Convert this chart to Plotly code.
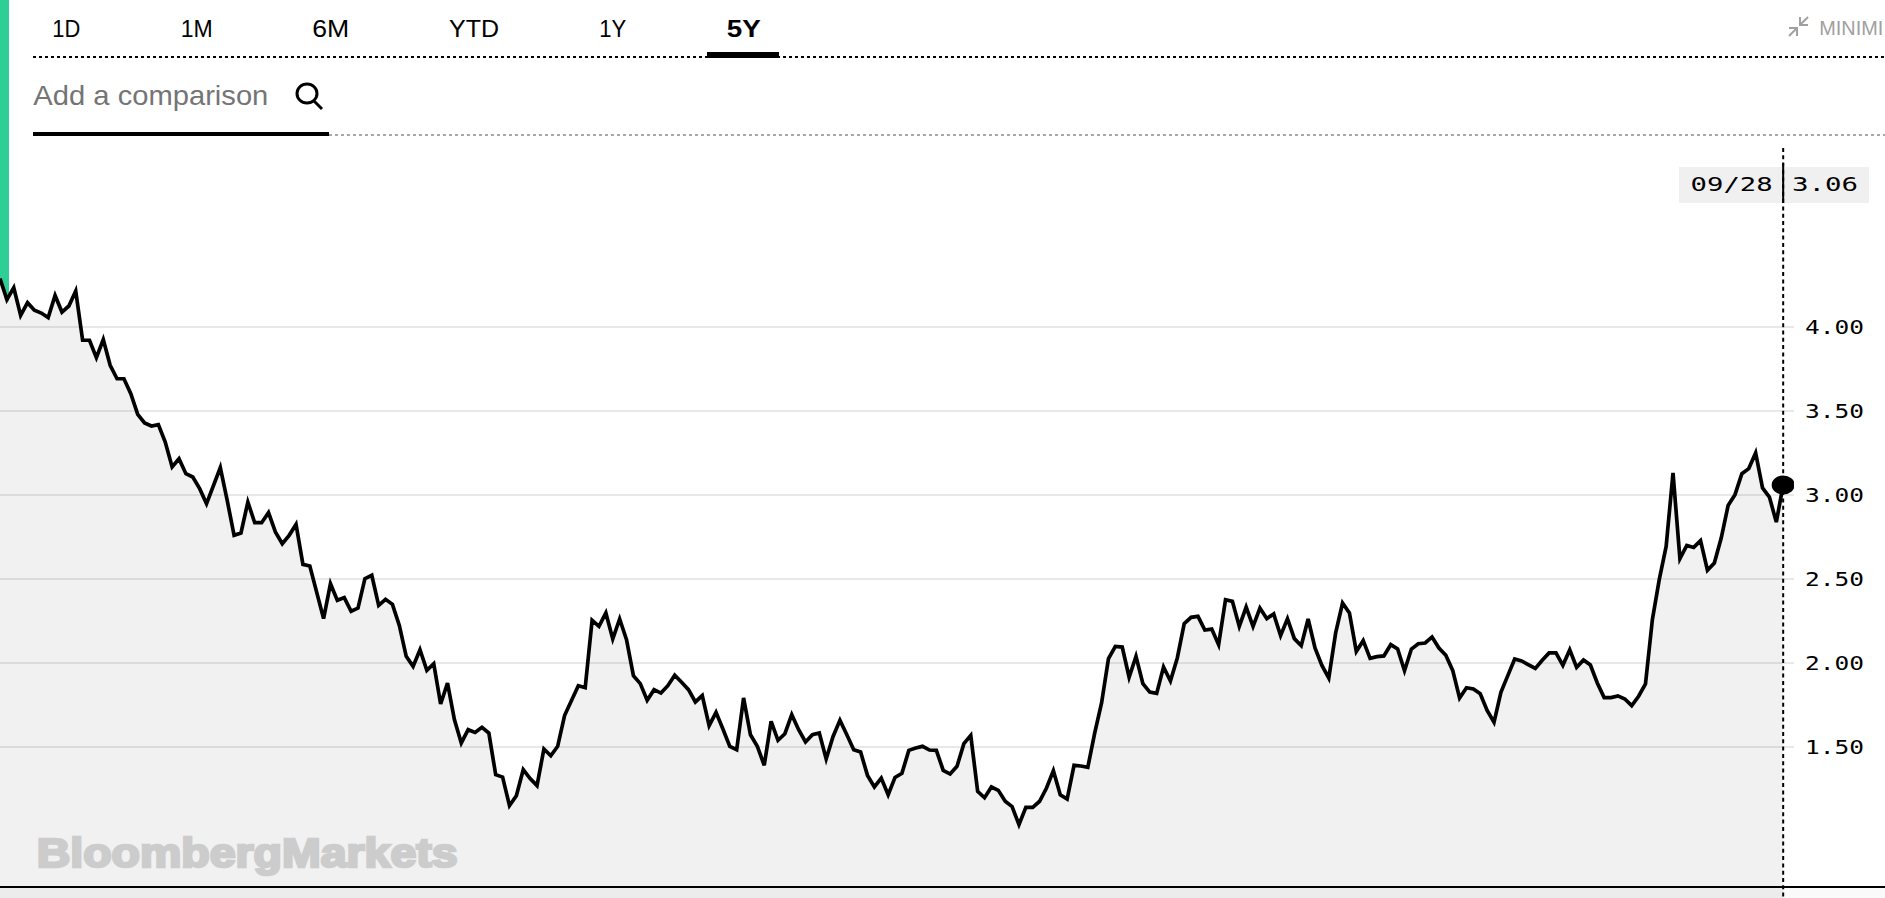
import json
import pandas as pd
import plotly.graph_objects as go

WIDTH = 1885
HEIGHT = 898
PLOT_RIGHT = 1794

# weekly values, oldest first
values = [
    4.288, 4.163, 4.234, 4.069, 4.145, 4.100, 4.083, 4.056, 4.188, 4.089,
    4.125, 4.214, 3.921, 3.921, 3.817, 3.925, 3.772, 3.692, 3.692, 3.603,
    3.480, 3.429, 3.411, 3.419, 3.315, 3.167, 3.216, 3.127, 3.107, 3.038,
    2.948, 3.058, 3.163, 2.968, 2.760, 2.774, 2.958, 2.835, 2.835, 2.895,
    2.780, 2.710, 2.760, 2.825, 2.587, 2.577, 2.423, 2.264, 2.472, 2.373,
    2.389, 2.308, 2.327, 2.502, 2.522, 2.343, 2.379, 2.349, 2.224, 2.040,
    1.980, 2.079, 1.956, 1.996, 1.756, 1.881, 1.663, 1.524, 1.603, 1.587,
    1.617, 1.583, 1.335, 1.321, 1.151, 1.210, 1.365, 1.312, 1.270, 1.488,
    1.448, 1.504, 1.687, 1.772, 1.865, 1.853, 2.254, 2.218, 2.298, 2.143,
    2.262, 2.139, 1.925, 1.877, 1.778, 1.841, 1.821, 1.865, 1.927, 1.885,
    1.841, 1.768, 1.806, 1.627, 1.706, 1.607, 1.504, 1.484, 1.792, 1.573,
    1.504, 1.391, 1.653, 1.540, 1.579, 1.692, 1.603, 1.530, 1.573, 1.583,
    1.429, 1.563, 1.659, 1.573, 1.484, 1.470, 1.331, 1.262, 1.315, 1.216,
    1.319, 1.343, 1.480, 1.494, 1.504, 1.482, 1.480, 1.361, 1.339, 1.385,
    1.520, 1.569, 1.236, 1.198, 1.262, 1.242, 1.177, 1.145, 1.038, 1.141,
    1.141, 1.177, 1.256, 1.359, 1.216, 1.190, 1.391, 1.387, 1.379, 1.583,
    1.762, 2.026, 2.099, 2.095, 1.915, 2.040, 1.877, 1.827, 1.819, 1.976,
    1.893, 2.030, 2.234, 2.272, 2.278, 2.196, 2.202, 2.109, 2.377, 2.367,
    2.218, 2.333, 2.218, 2.327, 2.264, 2.292, 2.163, 2.264, 2.145, 2.103,
    2.262, 2.089, 1.986, 1.911, 2.179, 2.357, 2.298, 2.069, 2.133, 2.028,
    2.038, 2.042, 2.109, 2.083, 1.954, 2.083, 2.115, 2.119, 2.155, 2.089,
    2.046, 1.956, 1.792, 1.853, 1.845, 1.817, 1.718, 1.647, 1.825, 1.925,
    2.024, 2.012, 1.990, 1.968, 2.016, 2.060, 2.060, 1.986, 2.079, 1.974,
    2.018, 1.988, 1.881, 1.794, 1.794, 1.804, 1.786, 1.746, 1.802, 1.875,
    2.258, 2.496, 2.694, 3.131, 2.621, 2.700, 2.688, 2.728, 2.552, 2.595,
    2.744, 2.937, 3.002, 3.127, 3.157, 3.250, 3.042, 2.988, 2.839, 3.060,
]
dates = pd.date_range(end="2018-09-28", periods=len(values), freq="7D")

tick_vals = [1.5, 2.0, 2.5, 3.0, 3.5, 4.0]
tabs = ["1D", "1M", "6M", "YTD", "1Y", "5Y"]
tab_centers = [66, 196, 330, 474, 612, 743]
tab_widths = [28, 32, 37, 50, 27, 34]


def px(x):
    return x / PLOT_RIGHT


def py(y):
    return 1 - y / HEIGHT


def paper_path(points, close=False):
    d = "M" + " L".join(f"{px(x):.5f},{py(y):.5f}" for x, y in points)
    return d + (" Z" if close else "")


def hline(y, x0, x1, color="black", width=2, dash="solid"):
    return dict(type="line", xref="paper", yref="paper", x0=px(x0), x1=px(x1),
                y0=py(y), y1=py(y), line=dict(color=color, width=width, dash=dash))


def box(x0, x1, y0, y1, color, layer="above"):
    return dict(type="rect", xref="paper", yref="paper", x0=px(x0), x1=px(x1),
                y0=py(y0), y1=py(y1), fillcolor=color, line_width=0, layer=layer)


def stroke(points, color, width):
    return dict(type="path", xref="paper", yref="paper", path=paper_path(points),
                line=dict(color=color, width=width))


fig = go.Figure()
fig.add_trace(go.Scatter(
    x=dates, y=values, mode="lines",
    line=dict(color="black", width=3.7),
    fill="tozeroy", fillcolor="rgba(0,0,0,0.055)",
    hoverinfo="skip", showlegend=False,
))

shapes = [
    # green strip on the left, cut along the line
    dict(type="path", xref="paper", yref="paper", layer="below",
         path=paper_path([(0, 0), (9, 0), (9, 302), (0, 278)], close=True),
         fillcolor="#2ecf96", line_width=0),
    # top nav
    hline(57, 33, WIDTH, dash="dot"),
    box(707, 779, 52, 58, "black"),
    hline(135, 329, WIDTH, color="#8c8c8c", width=1.5, dash="dot"),
    box(33, 329, 132, 136, "black"),
    # search icon
    dict(type="circle", xref="paper", yref="paper", x0=px(297), x1=px(317),
         y0=py(84), y1=py(103), line=dict(color="black", width=3)),
    stroke([(314, 101), (322, 109)], "black", 3),
    # minimize icon
    stroke([(1808, 17), (1800, 25)], "#a0a0a0", 2),
    stroke([(1800, 17), (1800, 25), (1808, 25)], "#a0a0a0", 2),
    stroke([(1789, 36), (1797, 28)], "#a0a0a0", 2),
    stroke([(1789, 28), (1797, 28), (1797, 36)], "#a0a0a0", 2),
    # date and value box with the crosshair
    box(1679, 1869, 167, 203, "#f0f0f0"),
    dict(type="line", xref="x", yref="paper", x0=dates[-1], x1=dates[-1],
         y0=py(148), y1=0, line=dict(color="black", width=2, dash="4px,3.3px")),
    dict(type="line", xref="x", yref="paper", x0=dates[-1], x1=dates[-1],
         y0=py(163), y1=py(203), line=dict(color="black", width=2)),
    # last value marker
    dict(type="circle", xref="x", yref="y", xsizemode="pixel", ysizemode="pixel",
         xanchor=dates[-1], yanchor=values[-1], x0=-11.5, x1=11.5, y0=-9.5, y1=9.5,
         fillcolor="black", line_width=0),
    # bottom rule and strip under it
    box(0, WIDTH, 887, HEIGHT, "rgba(0,0,0,0.02)"),
    hline(887, 0, WIDTH),
]

# every annotation is centred; text_spans holds the width it is stretched to
annotations = []
text_spans = {}
for name, center, span in zip(tabs, tab_centers, tab_widths):
    annotations.append(dict(text=name, x=px(center), y=py(28),
                            font=dict(family="Liberation Sans", size=24, color="black",
                                      weight=700 if name == "5Y" else 400)))
    text_spans[name] = span
annotations += [
    dict(text="Add a comparison", x=px(151), y=py(96),
         font=dict(family="Liberation Sans", size=28, color="#757575")),
    dict(text="MINIMI", x=px(1851), y=py(28),
         font=dict(family="Liberation Sans", size=20, color="#a0a0a0")),
    dict(text="09/28", x=px(1731), y=py(184),
         font=dict(family="DejaVu Sans Mono", size=19, color="black")),
    dict(text="3.06", x=px(1825), y=py(184),
         font=dict(family="DejaVu Sans Mono", size=19, color="black")),
    dict(text="BloombergMarkets", x=px(247.5), y=py(853),
         font=dict(family="Liberation Sans", size=40, color="#cccccc", weight=700)),
]
text_spans.update({"Add a comparison": 235, "MINIMI": 64, "09/28": 82, "3.06": 66,
                   "BloombergMarkets": 421})
for a in annotations:
    a.update(xref="paper", yref="paper", xanchor="center", yanchor="middle", showarrow=False)

fig.update_layout(
    width=WIDTH, height=HEIGHT,
    margin=dict(l=0, r=WIDTH - PLOT_RIGHT, t=0, b=0),
    plot_bgcolor="white", paper_bgcolor="white",
    showlegend=False,
    shapes=shapes,
    annotations=annotations,
)
fig.update_xaxes(visible=False, range=[dates[0], dates[-1] + pd.Timedelta(days=11)])
fig.update_yaxes(
    range=[4 - (HEIGHT - 327) / 168, 4 + 327 / 168],
    side="right", tickvals=tick_vals, tickformat=".2f",
    tickfont=dict(family="DejaVu Sans Mono", size=19, color="black"),
    ticklen=0, ticklabelstandoff=10,
    showgrid=True, gridcolor="#e8e8e8", gridwidth=2,
    zeroline=False, showline=False,
)

page_fix = """
document.body.style.margin = '0';
document.body.style.overflow = 'hidden';
var st = document.createElement('style');
st.textContent = 'path.js-line{stroke-linejoin:miter !important;stroke-miterlimit:4 !important}';
document.head.appendChild(st);
var spans = %s;
function stretch(t, w) {
  t.setAttribute('textLength', w);
  t.setAttribute('lengthAdjust', 'spacingAndGlyphs');
}
document.querySelectorAll('.ytick text').forEach(function (t) { stretch(t, 59); });
document.querySelectorAll('.annotation-text').forEach(function (t) {
  var w = spans[t.textContent];
  if (w) { stretch(t, w); }
  if (t.textContent === 'BloombergMarkets') {
    t.style.stroke = '#cccccc'; t.style.strokeWidth = '2.5px';
  }
});
""" % json.dumps(text_spans)

fig.write_html("out.html", post_script=page_fix, config={"displayModeBar": False})
